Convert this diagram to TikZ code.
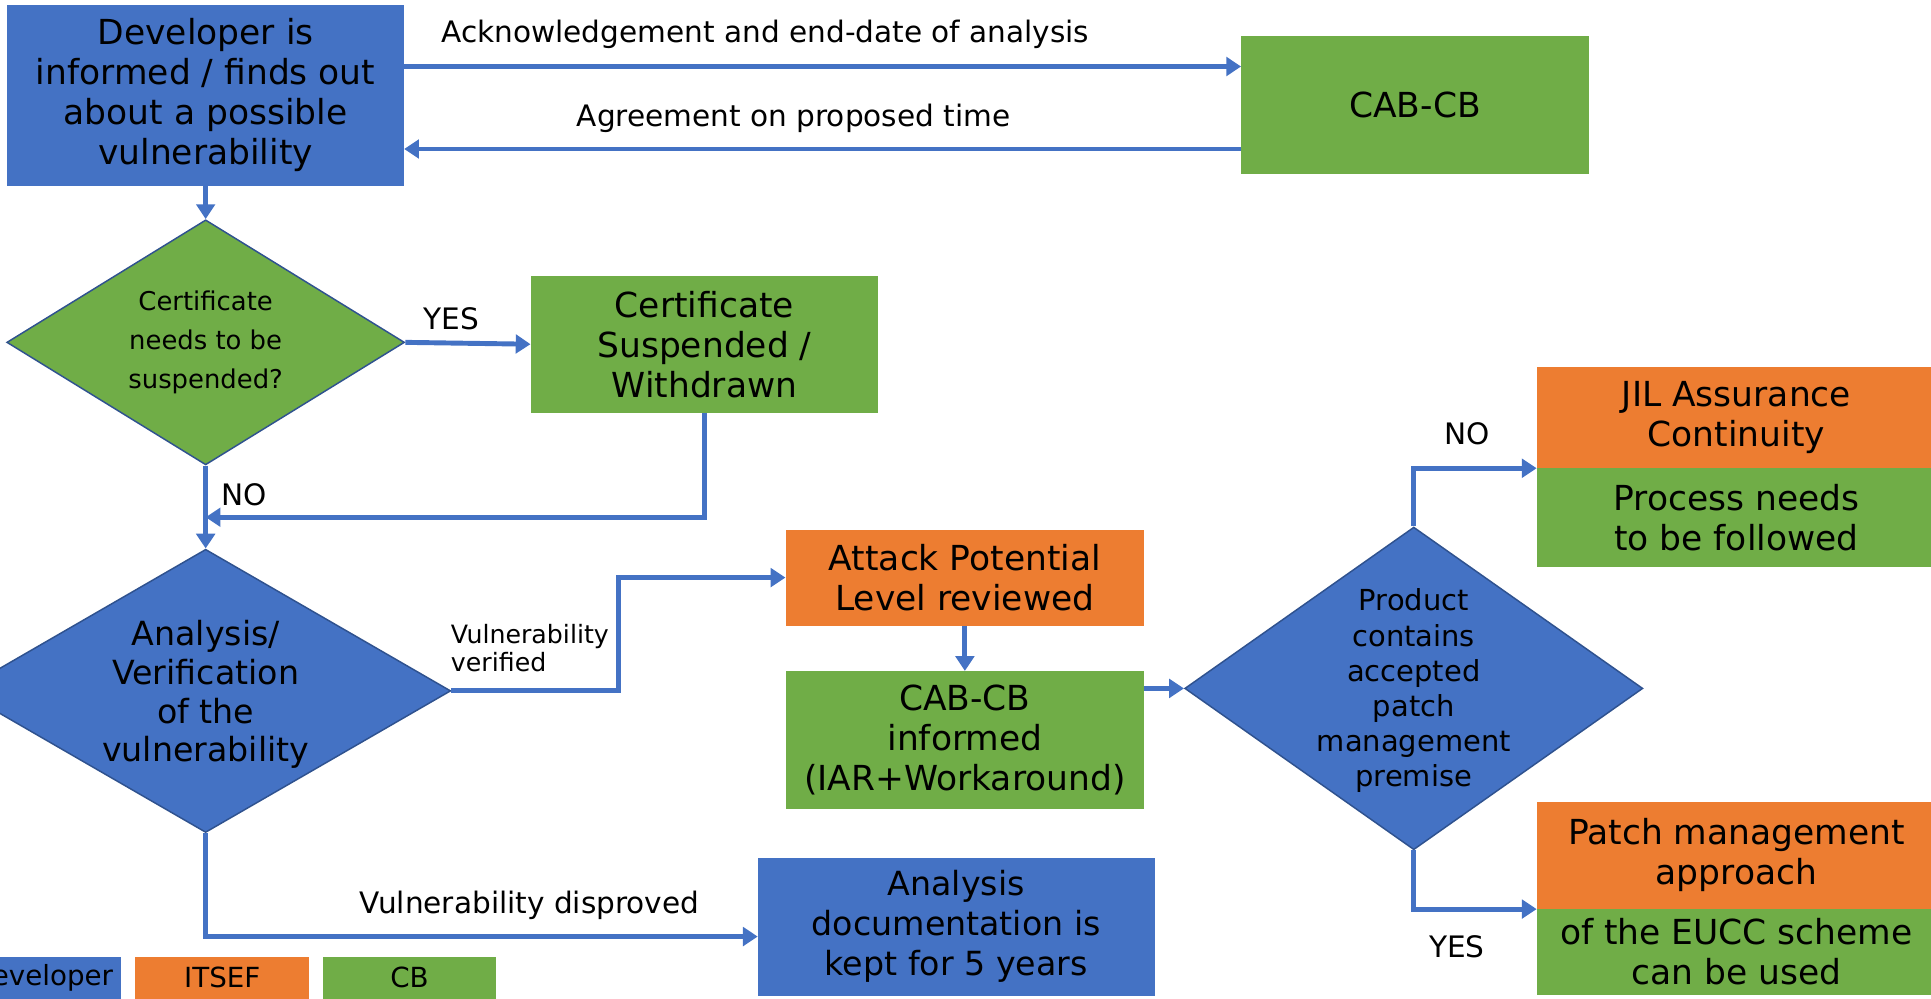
\documentclass[tikz,border=0pt]{standalone}
\usepackage{fontspec}
\setmainfont{DejaVu Sans}
\usetikzlibrary{arrows.meta,shapes.geometric}
\definecolor{cblue}{HTML}{4472C4}
\definecolor{corange}{HTML}{ED7D31}
\definecolor{cgreen}{HTML}{70AD47}
\definecolor{dborder}{HTML}{2F528F}
\begin{document}
\begin{tikzpicture}[x=1pt,y=-1pt,
  box/.style={draw=none, inner sep=0pt, align=center, font=\fontsize{28}{32.5}\selectfont},
  dia/.style={diamond, draw=dborder, line width=1.2pt, inner sep=0pt},
  dtext/.style={inner sep=0pt, align=center},
  conn/.style={draw=cblue, line width=4pt, -{Triangle[width=15pt,length=12pt]}},
  lbl/.style={inner sep=0pt, font=\fontsize{24}{28}\selectfont},
  leg/.style={draw=none, inner sep=0pt, minimum height=34pt, font=\fontsize{22.5}{26}\selectfont}]
\useasboundingbox (0,0) rectangle (1568,811);

% boxes
\node[box, fill=cblue, minimum width=322pt, minimum height=147pt] (dev) at (167,77.5) {Developer is\\informed / finds out\\about a possible\\vulnerability};
\node[box, fill=cgreen, minimum width=282pt, minimum height=112pt] (cab) at (1149,85) {CAB-CB};
\node[box, fill=cgreen, minimum width=282pt, minimum height=111pt] (cert) at (572,279.5) {Certificate\\Suspended /\\Withdrawn};
\node[box, fill=corange, minimum width=291pt, minimum height=78pt] (apl) at (783.5,469) {Attack Potential\\Level reviewed};
\node[box, fill=cgreen, minimum width=291pt, minimum height=112pt] (inf) at (783.5,601) {CAB-CB\\informed\\(IAR+Workaround)};
\node[box, fill=cblue, minimum width=322pt, minimum height=112pt, font=\fontsize{27}{32.5}\selectfont] (doc) at (776.5,752.5) {Analysis\\documentation is\\kept for 5 years};
\node[box, fill=corange, minimum width=324pt, minimum height=82pt] (jil) at (1410,339) {JIL Assurance\\Continuity};
\node[box, fill=cgreen, minimum width=324pt, minimum height=80pt] (proc) at (1410,420) {Process needs\\to be followed};
\node[box, fill=corange, minimum width=324pt, minimum height=87pt] (pm) at (1410,694.5) {Patch management\\approach};
\node[box, fill=cgreen, minimum width=324pt, minimum height=70pt] (eucc) at (1410,773) {of the EUCC scheme\\can be used};

% diamonds
\node[dia, fill=cgreen, minimum width=323pt, minimum height=199pt] (d1) at (167,278) {};
\node[dtext, font=\fontsize{21}{32}\selectfont] (d1t) at (d1.center) {Certificate\\needs to be\\suspended?};
\node[dia, fill=cblue, minimum width=398pt, minimum height=230pt] (d2) at (167,561) {};
\node[dtext, font=\fontsize{27}{31.5}\selectfont] (d2t) at ([yshift=-3pt]d2.center) {Analysis/\\Verification\\of the\\vulnerability};
\node[dia, fill=cblue, minimum width=372pt, minimum height=262pt] (d3) at (1148,559) {};
\node[dtext, font=\fontsize{23.5}{28.6}\selectfont] (d3t) at ([yshift=-2pt]d3.center) {Product\\contains\\accepted\\patch\\management\\premise};

% legend
\node[leg, fill=cblue, minimum width=128pt] (ldev) at (34,794) {Developer};
\node[leg, fill=corange, minimum width=141pt] (litsef) at (180.5,794) {ITSEF};
\node[leg, fill=cgreen, minimum width=141pt] (lcb) at (332.5,794) {CB};

% helper coordinates
\coordinate (ack) at (0,54);
\coordinate (agr) at (0,121);
\coordinate (m1) at (167,420);
\coordinate (v1) at (502,0);

% connectors
\draw[conn] (dev.east |- ack) -- (cab.west |- ack);
\draw[conn] (cab.west |- agr) -- (dev.east |- agr);
\draw[conn] (dev.south) -- (d1.north);
\draw[conn] (d1.east) -- (cert.west);
\draw[conn] (cert.south) |- (m1);
\draw[conn] (d1.south) -- (d2.north);
\draw[conn] (d2.east) -- (v1 |- d2.east) |- (apl.west);
\draw[conn] (apl.south) -- (inf.north);
\draw[conn] (inf.east |- d3.west) -- (d3.west);
\draw[conn] (d3.north) |- (jil.south west);
\draw[conn] (d3.south) |- (pm.south west);
\draw[conn] (d2.south) |- ([yshift=-8pt]doc.west);

% labels
\node[lbl] (lack) at (621.5,28) {Acknowledgement and end-date of analysis};
\node[lbl] (lagr) at (644.5,96) {Agreement on proposed time};
\node[lbl] (lyes1) at (366.5,259) {YES};
\node[lbl] (lno1) at (198.5,402) {NO};
\node[lbl, anchor=west, align=left, font=\fontsize{20.5}{22.5}\selectfont] (lver) at (366,526) {Vulnerability\\verified};
\node[lbl] (ldis) at (430,735) {Vulnerability disproved};
\node[lbl] (lno2) at (1191.5,352) {NO};
\node[lbl] (lyes2) at (1183,769) {YES};
\end{tikzpicture}
\end{document}
